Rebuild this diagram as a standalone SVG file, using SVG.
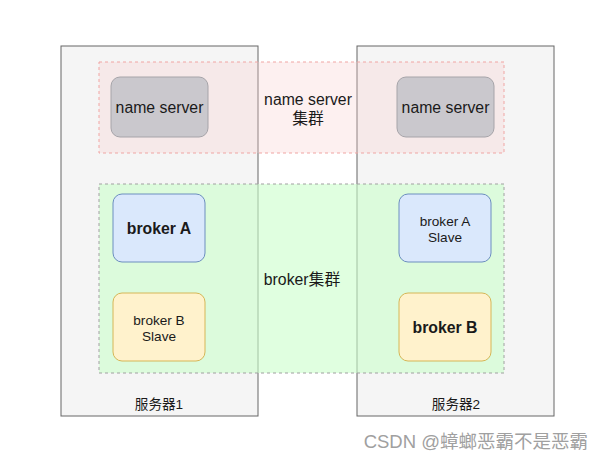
<svg xmlns="http://www.w3.org/2000/svg" width="609" height="461" viewBox="0 0 609 461">
<style>
.server{fill:#f5f5f5;stroke:#666666;stroke-width:1}
.t{font-family:"Liberation Sans",Arial,"Noto Sans CJK SC",sans-serif;fill:#1a1a1a;text-anchor:middle;dominant-baseline:central}
.ns{fill:#cac8cd;stroke:#a6a4a9}
.a{fill:#dae8fc;stroke:#6c8ebf}
.b{fill:#fff2cc;stroke:#d6b656}
.f14{font-size:15.8px}
.f12{font-size:13.6px}
.bold{font-weight:bold}
</style>
<rect width="609" height="461" fill="#ffffff"/>
<g id="server1"><rect class="server" x="61" y="46" width="197" height="370"/><text class="t f12" x="159" y="404">服务器1</text></g>
<g id="server2"><rect class="server" x="357" y="46" width="197" height="370"/><text class="t f12" x="456" y="404">服务器2</text></g>
<g id="nameserver-cluster"><rect x="99" y="62" width="405" height="91" fill="#f8cecc" fill-opacity="0.3" stroke="#f0a5a3" stroke-dasharray="3 3"/>
<text class="t f14" x="308" y="99">name server</text><text class="t f14" x="308" y="118">集群</text></g>
<g id="broker-cluster"><rect x="99" y="184" width="405" height="189" fill="#ccffcc" fill-opacity="0.6" stroke="#a0a0a0" stroke-dasharray="3 3"/>
<text class="t f14" x="302" y="279">broker集群</text></g>
<g id="ns1"><rect class="ns" x="111" y="77" width="97" height="60" rx="9"/><text class="t f14" x="159.5" y="107">name server</text></g>
<g id="ns2"><rect class="ns" x="397" y="77" width="97" height="60" rx="9"/><text class="t f14" x="445.5" y="107">name server</text></g>
<g id="brokerA"><rect class="a" x="113" y="194" width="92" height="68" rx="9"/><text class="t f14 bold" x="159" y="228">broker A</text></g>
<g id="brokerBSlave"><rect class="b" x="113" y="293" width="92" height="68" rx="9"/><text class="t f12" x="159" y="320">broker B</text><text class="t f12" x="159" y="336">Slave</text></g>
<g id="brokerASlave"><rect class="a" x="399" y="194" width="92" height="68" rx="9"/><text class="t f12" x="445" y="221">broker A</text><text class="t f12" x="445" y="237">Slave</text></g>
<g id="brokerB"><rect class="b" x="399" y="293" width="92" height="68" rx="9"/><text class="t f14 bold" x="445" y="327">broker B</text></g>
<g id="connectors"></g>
<text x="588" y="441" font-family="'Liberation Sans','Noto Sans CJK SC',sans-serif" font-size="18.5" fill="#a0a0a0" text-anchor="end" dominant-baseline="central">CSDN @蟑螂恶霸不是恶霸</text>
</svg>
